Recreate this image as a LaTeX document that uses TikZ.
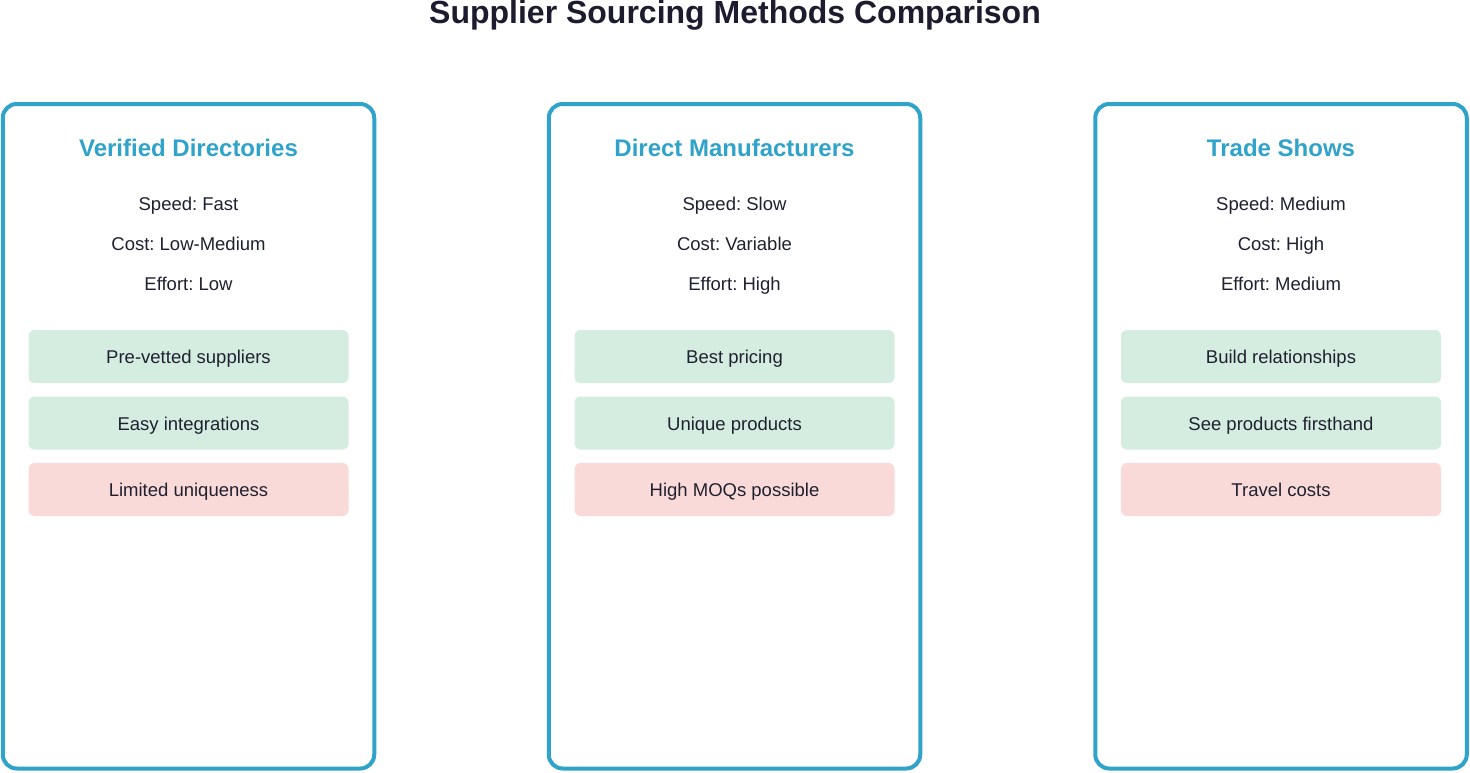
\documentclass[tikz,border=0pt]{standalone}
\usepackage{fontspec}
\setmainfont{Liberation Sans}
\frenchspacing
\definecolor{cardblue}{HTML}{2FA3C9}
\definecolor{titlecol}{HTML}{1C1C2E}
\definecolor{txt}{HTML}{1F2130}
\definecolor{progreen}{HTML}{D4EDE0}
\definecolor{conred}{HTML}{FADAD8}
\tikzset{
  card/.style={draw=cardblue, line width=4pt, rounded corners=14pt, fill=white},
  head/.style={font=\fontsize{24}{28}\selectfont\bfseries, text=cardblue, anchor=base, inner sep=0pt},
  metric/.style={font=\fontsize{18.5}{22}\selectfont, text=txt, anchor=base, inner sep=0pt},
  pill/.style={rounded corners=6pt, minimum width=320pt, minimum height=53pt, inner sep=0pt, text height=14pt, text depth=0pt, font=\fontsize{18.5}{22}\selectfont, text=txt, anchor=center},
  pro/.style={pill, fill=progreen},
  con/.style={pill, fill=conred},
}
\begin{document}
\begin{tikzpicture}[x=1pt,y=-1pt]
\useasboundingbox[fill=white] (0,0) rectangle (1470,772);
\node[font=\fontsize{32}{36}\selectfont\bfseries, text=titlecol, anchor=base, inner sep=0pt] (title) at (735,23.5) {Supplier Sourcing Methods Comparison};
% cards
\foreach \cx/\nm/\hd/\vsp/\vco/\vef/\pa/\pb/\ca in {
  188.5/c1/Verified Directories/Fast/Low-Medium/Low/Pre-vetted suppliers/Easy integrations/Limited uniqueness,
  734.5/c2/Direct Manufacturers/Slow/Variable/High/Best pricing/Unique products/High MOQs possible,
  1281/c3/Trade Shows/Medium/High/Medium/Build relationships/See products firsthand/Travel costs}{
  \draw[card] (\cx-185.75,104) rectangle (\cx+185.75,768.5);
  \node[head] (\nm-h) at (\cx,156.7) {\hd};
  \node[metric] (\nm-s) at (\cx,210) {Speed: \vsp};
  \node[metric] (\nm-c) at (\cx,250) {Cost: \vco};
  \node[metric] (\nm-e) at (\cx,290) {Effort: \vef};
  \node[pro] (\nm-p1) at (\cx,356.5) {\pa};
  \node[pro] (\nm-p2) at (\cx,423) {\pb};
  \node[con] (\nm-k1) at (\cx,489.5) {\ca};
}
\end{tikzpicture}
\end{document}
